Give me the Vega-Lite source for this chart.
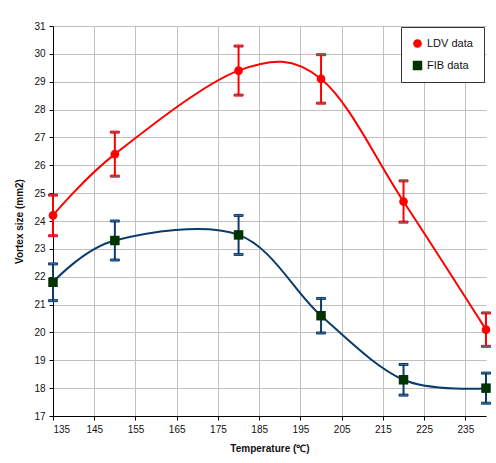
{
  "$schema": "https://vega.github.io/schema/vega-lite/v6.json",
  "width": 433,
  "height": 390,
  "autosize": {"type": "none"},
  "padding": {"left": 53, "top": 26, "right": 10, "bottom": 47},
  "background": "white",
  "config": {
    "view": {"stroke": null},
    "font": "Liberation Sans",
    "axis": {
      "gridColor": "#C0C0C0",
      "gridWidth": 1,
      "domainColor": "#000000",
      "tickColor": "#000000",
      "tickSize": 4,
      "labelFontSize": 10,
      "labelColor": "#111111",
      "titleFontSize": 10,
      "titleFontWeight": "bold",
      "titleColor": "#111111"
    },
    "legend": {
      "orient": "none",
      "legendX": 348,
      "legendY": 1,
      "strokeColor": "#333333",
      "fillColor": "white",
      "padding": 11,
      "rowPadding": 10,
      "labelFontSize": 11,
      "labelColor": "#111111",
      "symbolStrokeWidth": 0
    }
  },
  "data": {
    "values": [
      {"series": "LDV data", "temp": 135, "size": 24.2, "err": 0.73},
      {"series": "LDV data", "temp": 150, "size": 26.4, "err": 0.79},
      {"series": "LDV data", "temp": 180, "size": 29.4, "err": 0.88},
      {"series": "LDV data", "temp": 200, "size": 29.1, "err": 0.87},
      {"series": "LDV data", "temp": 220, "size": 24.7, "err": 0.74},
      {"series": "LDV data", "temp": 240, "size": 20.1, "err": 0.6},
      {"series": "FIB data", "temp": 135, "size": 21.8, "err": 0.66},
      {"series": "FIB data", "temp": 150, "size": 23.3, "err": 0.7},
      {"series": "FIB data", "temp": 180, "size": 23.5, "err": 0.7},
      {"series": "FIB data", "temp": 200, "size": 20.6, "err": 0.62},
      {"series": "FIB data", "temp": 220, "size": 18.3, "err": 0.55},
      {"series": "FIB data", "temp": 240, "size": 18.0, "err": 0.54}
    ]
  },
  "encoding": {
    "x": {
      "field": "temp",
      "type": "quantitative",
      "scale": {"domain": [135, 240], "nice": false, "zero": false},
      "axis": {
        "values": [135, 145, 155, 165, 175, 185, 195, 205, 215, 225, 235],
        "title": "Temperature (℃)",
        "titlePadding": 9,
        "labelPadding": 4
      }
    },
    "y": {
      "field": "size",
      "type": "quantitative",
      "scale": {"domain": [17, 31], "nice": false, "zero": false},
      "axis": {
        "values": [17, 18, 19, 20, 21, 22, 23, 24, 25, 26, 27, 28, 29, 30, 31],
        "title": "Vortex size (mm2)",
        "titlePadding": 9,
        "labelPadding": 4
      }
    }
  },
  "layer": [
    {
      "mark": {"type": "line", "interpolate": "cardinal", "strokeWidth": 2},
      "encoding": {
        "stroke": {
          "field": "series",
          "type": "nominal",
          "scale": {"domain": ["LDV data", "FIB data"], "range": ["#FF0000", "#0B3B6B"]},
          "legend": null
        }
      }
    },
    {
      "mark": {"type": "errorbar", "opacity": 1, "ticks": {"size": 9, "thickness": 2, "opacity": 1}, "rule": {"opacity": 1}, "thickness": 2},
      "encoding": {
        "yError": {"field": "err"},
        "stroke": {
          "field": "series",
          "type": "nominal",
          "scale": {"domain": ["LDV data", "FIB data"], "range": ["#FF0000", "#0B3B6B"]},
          "legend": null
        }
      }
    },
    {
      "mark": {"type": "point", "filled": true, "opacity": 1},
      "encoding": {
        "fill": {
          "field": "series",
          "type": "nominal",
          "scale": {"domain": ["LDV data", "FIB data"], "range": ["#FF0000", "#003300"]},
          "title": null
        },
        "shape": {
          "field": "series",
          "type": "nominal",
          "scale": {"domain": ["LDV data", "FIB data"], "range": ["circle", "square"]},
          "title": null
        },
        "size": {
          "field": "series",
          "type": "nominal",
          "scale": {"domain": ["LDV data", "FIB data"], "range": [75, 90]},
          "title": null
        }
      }
    }
  ],
  "resolve": {
    "scale": {"stroke": "independent"},
    "legend": {"stroke": "independent"}
  }
}
